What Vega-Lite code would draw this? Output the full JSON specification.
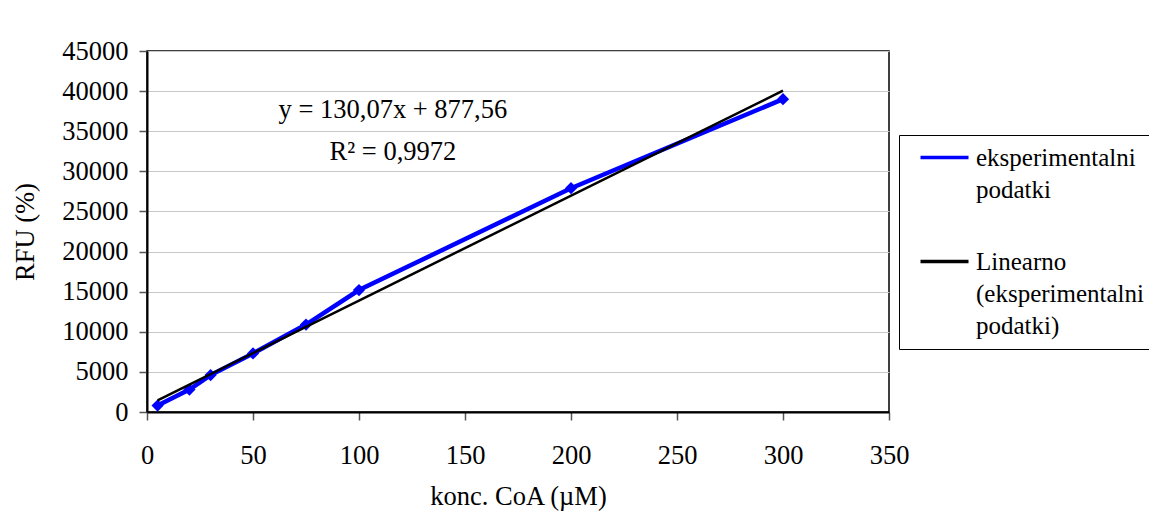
{
  "$schema": "https://vega.github.io/schema/vega-lite/v6.json",
  "width": 742,
  "height": 361,
  "autosize": {"type": "none"},
  "padding": {"left": 147, "top": 51, "right": 260, "bottom": 99},
  "background": "white",
  "config": {
    "font": "Liberation Serif",
    "view": {"stroke": "black", "strokeWidth": 1.5},
    "axis": {
      "labelFont": "Liberation Serif",
      "labelFontSize": 26.5,
      "labelColor": "black",
      "titleFont": "Liberation Serif",
      "titleFontSize": 26.5,
      "titleFontWeight": "normal",
      "titleColor": "black",
      "domainColor": "black",
      "domainWidth": 2,
      "tickColor": "#555555",
      "tickSize": 8,
      "tickWidth": 1.5,
      "gridColor": "#c8c8c8",
      "gridWidth": 1.2
    },
    "legend": {
      "labelFont": "Liberation Serif",
      "labelFontSize": 25,
      "labelColor": "black",
      "labelLimit": 0
    }
  },
  "datasets": {
    "pts": [
      {"konc": 5, "rfu": 800},
      {"konc": 20, "rfu": 2800},
      {"konc": 30, "rfu": 4600},
      {"konc": 50, "rfu": 7300},
      {"konc": 75, "rfu": 10900},
      {"konc": 100, "rfu": 15200},
      {"konc": 200, "rfu": 27900},
      {"konc": 300, "rfu": 39000}
    ]
  },
  "layer": [
    {
      "data": {"name": "pts"},
      "mark": {"type": "line", "strokeWidth": 4.5, "point": {"shape": "diamond", "filled": true, "size": 150}},
      "encoding": {
        "x": {
          "field": "konc", "type": "quantitative",
          "scale": {"domain": [0, 350], "nice": false},
          "axis": {"title": "konc. CoA (µM)", "grid": false, "values": [0, 50, 100, 150, 200, 250, 300, 350], "labelPadding": 22, "titlePadding": 15, "labelFlush": false}
        },
        "y": {
          "field": "rfu", "type": "quantitative",
          "scale": {"domain": [0, 45000], "nice": false},
          "axis": {"title": "RFU (%)", "grid": true, "values": [0, 5000, 10000, 15000, 20000, 25000, 30000, 35000, 40000, 45000], "format": "d", "labelPadding": 11, "titlePadding": 22}
        },
        "color": {
          "datum": "eksperimentalni podatki",
          "scale": {"domain": ["eksperimentalni podatki", "Linearno (eksperimentalni podatki)"], "range": ["#0000ff", "#000000"]},
          "legend": {
            "title": null,
            "orient": "none",
            "legendX": 752,
            "legendY": 84,
            "strokeColor": "black",
            "fillColor": "white",
            "padding": 10,
            "rowPadding": 46,
            "symbolType": "M-4,0H4",
            "symbolSize": 144,
            "symbolStrokeWidth": 3.5,
            "symbolOffset": 23,
            "labelOffset": 19,
            "labelBaseline": "middle",
            "labelExpr": "datum.label == 'eksperimentalni podatki' ? ['eksperimentalni', 'podatki'] : ['Linearno', '(eksperimentalni', 'podatki)']",
            "encode": {"labels": {"update": {"lineHeight": {"value": 32}}}}
          }
        }
      }
    },
    {
      "data": {"name": "pts"},
      "transform": [{"regression": "rfu", "on": "konc"}],
      "mark": {"type": "line", "strokeWidth": 2.5},
      "encoding": {
        "x": {"field": "konc", "type": "quantitative"},
        "y": {"field": "rfu", "type": "quantitative"},
        "color": {"datum": "Linearno (eksperimentalni podatki)"}
      }
    },
    {
      "data": {"values": [{"t": ["y = 130,07x + 877,56", "R² = 0,9972"]}]},
      "mark": {"type": "text", "font": "Liberation Serif", "fontSize": 26.5, "align": "center", "baseline": "alphabetic", "lineHeight": 42, "color": "black"},
      "encoding": {
        "x": {"datum": 116},
        "y": {"datum": 36700},
        "text": {"field": "t"}
      }
    }
  ]
}
